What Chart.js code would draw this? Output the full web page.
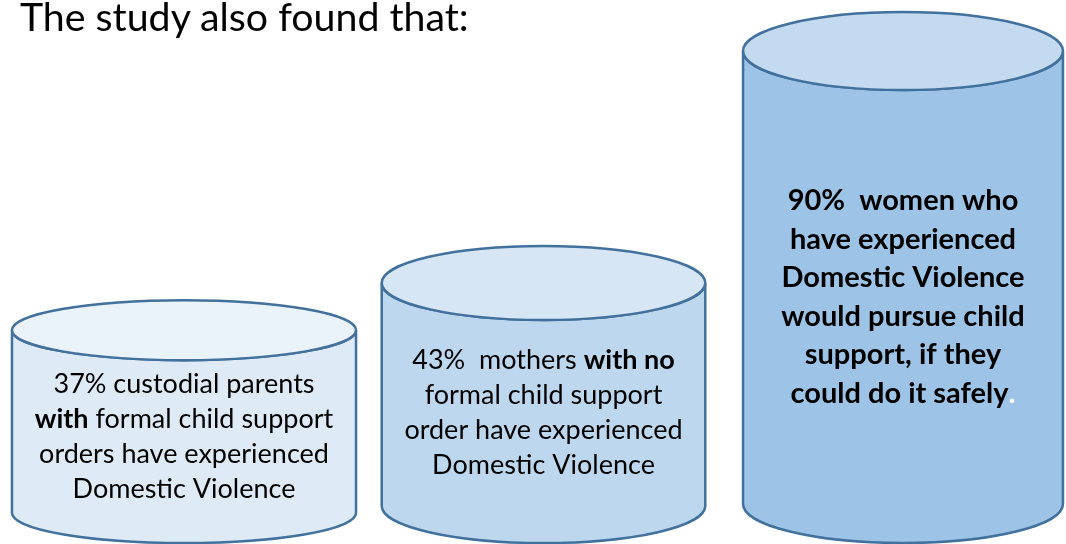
<!DOCTYPE html>
<html>
<head>
<meta charset="utf-8">
<title>The study also found that</title>
<script src="https://cdn.jsdelivr.net/npm/chart.js"></script>
<style>
    body { margin: 0; background: #fff; }
    #wrap { position: relative; width: 1066px; height: 544px; }
    #heading { position: absolute; left: 20px; top: -4px; font: 39.3px Lato, sans-serif; line-height: 1; color: #000; white-space: nowrap; }
</style>
</head>
<body>
<div id="wrap">
    <div id="heading">The study also found that:</div>
    <canvas id="myChart"></canvas>
</div>

<script>
    var categories = ["Custodial parents with formal order", "Mothers with no formal order", "Women who experienced DV"];
    var percentValues = [37, 43, 90];

    // text shown inside each cylinder: lines made of [text, style] runs ("" normal, "b" bold, "bw" bold white)
    var cylinderLines = [
        [
            [["37% custodial parents", ""]],
            [["with", "b"], [" formal child support", ""]],
            [["orders have experienced", ""]],
            [["Domestic Violence", ""]]
        ],
        [
            [["43%  mothers ", ""], ["with no", "b"]],
            [["formal child support", ""]],
            [["order have experienced", ""]],
            [["Domestic Violence", ""]]
        ],
        [
            [["90%  women who", "b"]],
            [["have experienced", "b"]],
            [["Domestic Violence", "b"]],
            [["would pursue child", "b"]],
            [["support, if they", "b"]],
            [["could do it safely", "b"], [".", "bw"]]
        ]
    ];

    // look of the cylinders
    var bodyColors = ["#deebf7", "#bdd7ee", "#9dc3e6"];
    var capColors = ["#eaf2fa", "#d6e6f5", "#c3daf0"];
    var widthRatio = [0.957, 0.90, 0.89];
    var capRadius = [30, 37, 39];
    var bottomDrop = 35;   // lowest point of every cylinder below the value axis base
    var textSize = [27, 27, 29];
    var lineGap = [35, 35, 38.5];

    function runFont(style, size) {
        return (style.indexOf("b") >= 0 ? "bold " : "") + size + "px Lato, sans-serif";
    }

    var cylinderPlugin = {
        id: "cylinders",
        afterDatasetsDraw: function (chart) {
            var ctx = chart.ctx;
            var meta = chart.getDatasetMeta(0);
            meta.data.forEach(function (bar, i) {
                var rx = bar.width * widthRatio[i] / 2;
                var ry = capRadius[i];
                var cx = bar.x, top = bar.y;
                var bottom = bar.base + bottomDrop - ry;

                ctx.save();
                ctx.lineWidth = 2.5;
                ctx.strokeStyle = "#41719c";

                // body
                ctx.beginPath();
                ctx.moveTo(cx - rx, top);
                ctx.lineTo(cx - rx, bottom);
                ctx.ellipse(cx, bottom, rx, ry, 0, Math.PI, 0, true);
                ctx.lineTo(cx + rx, top);
                ctx.ellipse(cx, top, rx, ry, 0, 0, Math.PI, false);
                ctx.closePath();
                ctx.fillStyle = bodyColors[i];
                ctx.fill();
                ctx.stroke();

                // cap
                ctx.beginPath();
                ctx.ellipse(cx, top, rx, ry, 0, 0, Math.PI * 2);
                ctx.fillStyle = capColors[i];
                ctx.fill();
                ctx.stroke();

                // text
                var lines = cylinderLines[i];
                var mid = (top + ry + bottom) / 2;
                ctx.textBaseline = "middle";
                ctx.textAlign = "left";
                lines.forEach(function (runs, j) {
                    var y = mid + (j - (lines.length - 1) / 2) * lineGap[i];
                    var total = 0;
                    var widths = runs.map(function (r) {
                        ctx.font = runFont(r[1], textSize[i]);
                        var w = ctx.measureText(r[0]).width;
                        total += w;
                        return w;
                    });
                    var x = cx - total / 2;
                    runs.forEach(function (r, k) {
                        ctx.font = runFont(r[1], textSize[i]);
                        ctx.fillStyle = r[1].indexOf("w") >= 0 ? "#ffffff" : "#000000";
                        ctx.fillText(r[0], x, y);
                        x += widths[k];
                    });
                });
                ctx.restore();
            });
        }
    };

    var ctx = document.getElementById("myChart").getContext("2d");
    new Chart(ctx, {
        type: "bar",
        data: {
            labels: categories,
            datasets: [{
                label: "Percent",
                data: percentValues,
                backgroundColor: "rgba(0,0,0,0)",
                borderWidth: 0,
                barPercentage: 1,
                categoryPercentage: 1,
                clip: false
            }]
        },
        options: {
            responsive: true,
            maintainAspectRatio: false,
            animation: false,
            layout: { padding: { left: 184, right: 163, top: 18, bottom: 36 } },
            plugins: {
                legend: { display: false },
                tooltip: { enabled: false },
                title: { display: false }
            },
            scales: {
                x: { display: false, offset: false },
                y: { display: false, type: "logarithmic", min: 21, max: 100 }
            }
        },
        plugins: [cylinderPlugin]
    });
</script>
</body>
</html>
